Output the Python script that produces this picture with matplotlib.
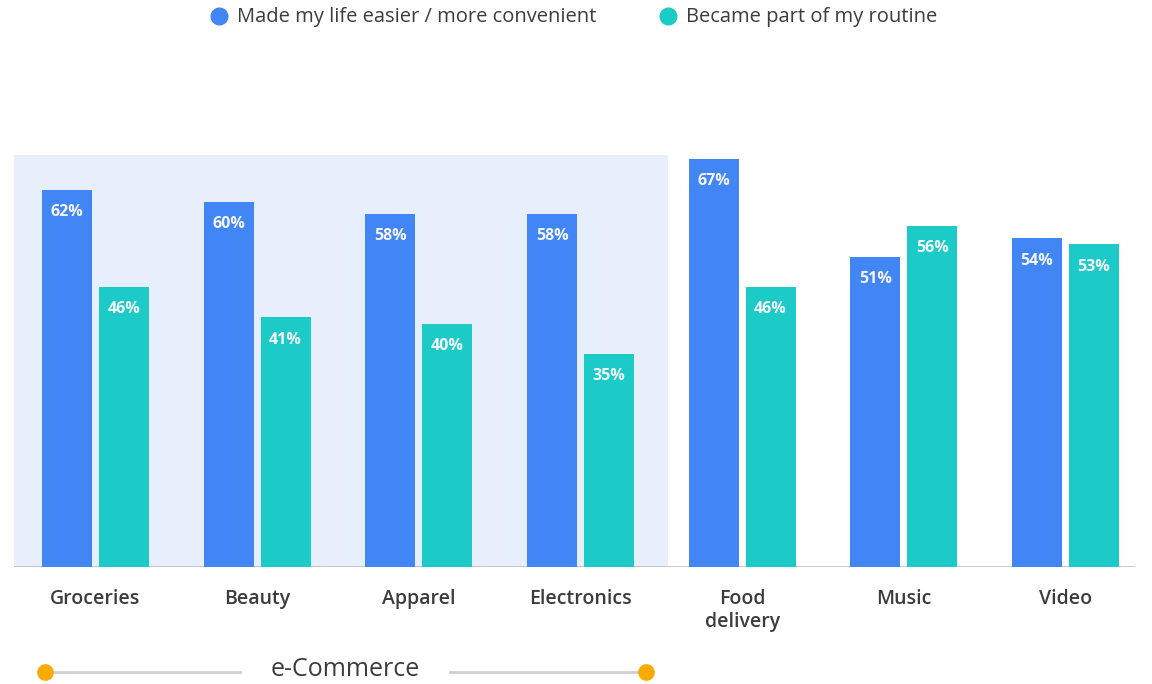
import matplotlib.pyplot as plt
from matplotlib.patches import Rectangle
from matplotlib.lines import Line2D

categories = ["Groceries", "Beauty", "Apparel", "Electronics", "Food\ndelivery", "Music", "Video"]
easier = [62, 60, 58, 58, 67, 51, 54]
routine = [46, 41, 40, 35, 46, 56, 53]
series_names = ["Made my life easier / more convenient", "Became part of my routine"]
group_label = "e-Commerce"
n_ecommerce = 4

BLUE = "#4285F4"
TEAL = "#1CCBC8"
SHADE = "#E8EFFC"
TEXT = "#3C3C3C"
ORANGE = "#F9AB00"

plt.rcParams["font.family"] = ["Open Sans", "DejaVu Sans"]

W, H = 1152, 684
fig = plt.figure(figsize=(W / 100, H / 100), dpi=100)

# axes placed in pixel terms: baseline at y=567, 0..70% spans 426 px
ax = fig.add_axes([14 / W, (H - 567) / H, 1121 / W, 426 / H])
ax.set_xlim(-0.504, 6.43)
ax.set_ylim(0, 70)
ax.axis("off")

xs = list(range(len(categories)))
bw = 0.309
off = 0.176

# shaded e-Commerce background
ax.add_patch(Rectangle((-0.504, 0), n_ecommerce - 0.5 + 0.044 + 0.504, 67.7,
                       facecolor=SHADE, edgecolor="none", zorder=0))

b1 = ax.bar([x - off for x in xs], easier, width=bw, color=BLUE, zorder=2)
b2 = ax.bar([x + off for x in xs], routine, width=bw, color=TEAL, zorder=2)

for bars, vals in ((b1, easier), (b2, routine)):
    for bar, v in zip(bars, vals):
        ax.annotate(f"{v}%", (bar.get_x() + bar.get_width() / 2, v),
                    xytext=(0, -16), textcoords="offset points",
                    ha="center", va="center", color="#F4F6FB",
                    fontsize=11.5, fontweight="bold", zorder=3)

# baseline
ax.axhline(0, color="#BDBDBD", lw=1.2, zorder=1)

# category labels
for x, c in zip(xs, categories):
    ax.annotate(c, (x, 0), xytext=(0, -16), textcoords="offset points",
                ha="center", va="top", fontsize=14, color=TEXT,
                fontweight="semibold", linespacing=1.2)

# legend at the top
def fx(px):
    return px / W

def fy(py):
    return 1 - py / H

for px, col, name in ((219, BLUE, series_names[0]), (668, TEAL, series_names[1])):
    fig.add_artist(Line2D([fx(px)], [fy(16)], marker="o", markersize=12,
                          color=col, linestyle="none"))
    fig.text(fx(px + 18), fy(17), name, ha="left", va="center",
             fontsize=14.5, color=TEXT)

# e-Commerce bracket below
fig.add_artist(Line2D([fx(45), fx(240)], [fy(672), fy(672)], color="#CFCFCF", lw=2))
fig.add_artist(Line2D([fx(450), fx(646)], [fy(672), fy(672)], color="#CFCFCF", lw=2))
fig.add_artist(Line2D([fx(45), fx(646)], [fy(672), fy(672)], marker="o",
                      markersize=11, color=ORANGE, linestyle="none"))
fig.text(fx(345), fy(670), group_label, ha="center", va="center",
         fontsize=18, color=TEXT)

fig.savefig("out.png", dpi=100, facecolor="white")
